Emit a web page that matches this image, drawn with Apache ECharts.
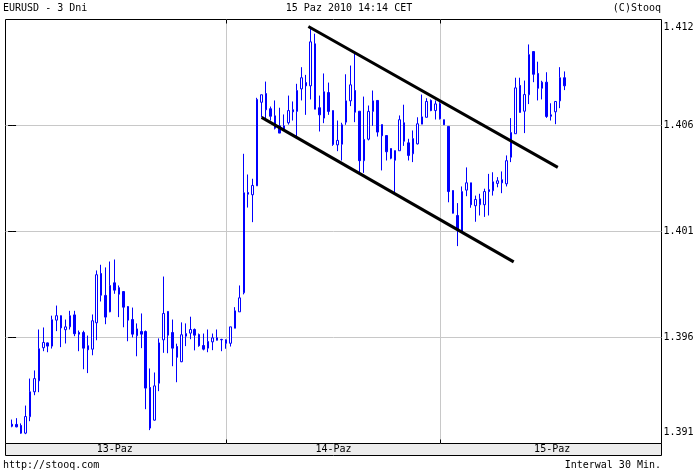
<!DOCTYPE html>
<html><head><meta charset="utf-8">
<script src="https://cdn.jsdelivr.net/npm/echarts@6/dist/echarts.min.js"></script>
<style>html,body{margin:0;padding:0;background:#fff}#c{width:700px;height:474px}</style>
</head><body><div id="c"></div>
<script>
// 30-minute candles, 13-15 Oct 2010 (index 0 = 13-Paz 00:00)
const opens = [1.39165,1.39164,1.39159,1.39121,1.39202,1.39325,1.39379,1.39542,1.39566,1.39550,
1.39678,1.39700,1.39631,1.39645,1.39704,1.39617,1.39617,1.39552,1.39535,1.39665,
1.39908,1.39800,1.39719,1.39862,1.39838,1.39819,1.39745,1.39681,1.39601,1.39622,
1.39622,1.39346,1.39185,1.39367,1.39581,1.39721,1.39617,1.39548,1.39473,1.39599,
1.39614,1.39632,1.39607,1.39553,1.39540,1.39571,1.39591,1.39583,1.39581,1.39564,
1.39638,1.39719,1.39813,1.40307,1.40296,1.40340,1.40752,1.40795,1.40720,1.40685,
1.40636,1.40613,1.40651,1.40715,1.40707,1.40818,1.40849,1.40833,1.41040,1.40725,
1.40674,1.40800,1.40711,1.40542,1.40545,1.40654,1.40759,1.40810,1.40708,1.40464,
1.40570,1.40707,1.40761,1.40642,1.40588,1.40524,1.40466,1.40513,1.40651,1.40552,
1.40498,1.40547,1.40644,1.40678,1.40761,1.40711,1.40744,1.40666,1.40633,1.40317,
1.40194,1.40115,1.40319,1.40355,1.40242,1.40247,1.40247,1.40321,1.40316,1.40352,
1.40370,1.40350,1.40481,1.40597,1.40835,1.40708,1.40789,1.41002,1.40894,1.40821,
1.40851,1.40690,1.40705,1.40759,1.40873];
const closes = [1.39155,1.39152,1.39121,1.39203,1.39325,1.39390,1.39537,1.39568,1.39550,1.39680,
1.39700,1.39640,1.39645,1.39700,1.39611,1.39609,1.39540,1.39532,1.39675,1.39902,
1.39801,1.39693,1.39849,1.39826,1.39806,1.39742,1.39678,1.39609,1.39635,1.39609,
1.39343,1.39146,1.39354,1.39566,1.39711,1.39604,1.39540,1.39495,1.39606,1.39612,
1.39632,1.39604,1.39552,1.39535,1.39573,1.39591,1.39579,1.39581,1.39564,1.39645,
1.39724,1.39788,1.40306,1.40299,1.40342,1.40766,1.40789,1.40715,1.40683,1.40624,
1.40600,1.40636,1.40711,1.40705,1.40810,1.40873,1.40833,1.41050,1.40718,1.40690,
1.40804,1.40707,1.40544,1.40564,1.40641,1.40759,1.40838,1.40703,1.40464,1.40569,
1.40707,1.40759,1.40605,1.40587,1.40508,1.40476,1.40514,1.40666,1.40560,1.40490,
1.40573,1.40646,1.40680,1.40756,1.40711,1.40744,1.40671,1.40641,1.40312,1.40205,
1.40123,1.40312,1.40355,1.40247,1.40273,1.40276,1.40312,1.40312,1.40360,1.40365,
1.40355,1.40464,1.40603,1.40823,1.40702,1.40790,1.40987,1.40890,1.40821,1.40851,
1.40682,1.40683,1.40756,1.40873,1.40833];
const lows = [1.39150,1.39150,1.39118,1.39116,1.39180,1.39308,1.39323,1.39525,1.39520,1.39538,
1.39624,1.39545,1.39563,1.39632,1.39599,1.39525,1.39436,1.39417,1.39505,1.39579,
1.39770,1.39658,1.39717,1.39808,1.39693,1.39643,1.39574,1.39593,1.39500,1.39540,
1.39239,1.39136,1.39183,1.39328,1.39517,1.39515,1.39451,1.39372,1.39471,1.39550,
1.39584,1.39529,1.39547,1.39529,1.39520,1.39530,1.39578,1.39525,1.39537,1.39548,
1.39638,1.39719,1.39805,1.40233,1.40161,1.40340,1.40678,1.40661,1.40662,1.40618,
1.40600,1.40613,1.40642,1.40662,1.40580,1.40761,1.40690,1.40766,1.40718,1.40608,
1.40649,1.40690,1.40537,1.40511,1.40465,1.40641,1.40733,1.40654,1.40407,1.40404,
1.40564,1.40636,1.40583,1.40416,1.40465,1.40471,1.40306,1.40513,1.40537,1.40465,
1.40457,1.40544,1.40644,1.40678,1.40708,1.40667,1.40667,1.40641,1.40259,1.40204,
1.40043,1.40115,1.40289,1.40232,1.40163,1.40194,1.40187,1.40194,1.40292,1.40333,
1.40304,1.40337,1.40457,1.40597,1.40702,1.40600,1.40743,1.40851,1.40761,1.40766,
1.40675,1.40662,1.40644,1.40723,1.40812];
const highs = [1.39188,1.39195,1.39169,1.39257,1.39390,1.39430,1.39632,1.39642,1.39568,1.39700,
1.39750,1.39701,1.39681,1.39724,1.39724,1.39627,1.39626,1.39602,1.39706,1.39923,
1.39951,1.39938,1.39967,1.39977,1.39849,1.39821,1.39747,1.39740,1.39662,1.39711,
1.39627,1.39440,1.39420,1.39588,1.39893,1.39722,1.39681,1.39562,1.39667,1.39662,
1.39695,1.39637,1.39612,1.39612,1.39632,1.39612,1.39632,1.39586,1.39583,1.39645,
1.39742,1.39849,1.40498,1.40396,1.40375,1.40774,1.40789,1.40854,1.40731,1.40761,
1.40725,1.40692,1.40785,1.40756,1.40843,1.40925,1.40887,1.41122,1.41090,1.40785,
1.40894,1.40849,1.40711,1.40662,1.40651,1.40890,1.40933,1.40991,1.40708,1.40780,
1.40736,1.40810,1.40761,1.40642,1.40588,1.40524,1.40514,1.40687,1.40740,1.40572,
1.40613,1.40678,1.40790,1.40772,1.40766,1.40761,1.40752,1.40666,1.40633,1.40317,
1.40255,1.40337,1.40431,1.40355,1.40292,1.40301,1.40326,1.40399,1.40407,1.40383,
1.40411,1.40490,1.40674,1.40873,1.40873,1.40859,1.41037,1.41002,1.40952,1.40858,
1.40900,1.40747,1.40756,1.40925,1.40904];

const dayLabels = ['13-Paz', '14-Paz', '15-Paz'];
const dayBoundaries = [48, 96];          // candle index of 00:00 on 14 and 15 Oct
const xMin = -1.48, xMax = 145.77;       // visible span in candle slots
const yAxisMin = 1.3907, yAxisMax = 1.4116;
const yGridValues = [1.395925, 1.40115, 1.406375];
const yLabelValues = [1.3907, 1.395925, 1.40115, 1.406375, 1.4116];
const trendUpper = [[66.8, 1.41122], [122.2, 1.40435]];
const trendLower = [[56.3, 1.40674], [112.3, 1.39969]];
const titleLeft = 'EURUSD - 3 Dni';
const titleCenter = '15 Paz 2010 14:14 CET';
const titleRight = '(C)Stooq';
const footLeft = 'http://stooq.com';
const footRight = 'Interwal 30 Min.';

const FONT = 'DejaVu Sans Mono';
const FS = 10;
const candleData = opens.map((o, i) => [i, o, closes[i], lows[i], highs[i]]);

const chart = echarts.init(document.getElementById('c'), null, {renderer: 'canvas'});
const tickStyle = {color: '#000', width: 1};
const option = {
  animation: false,
  backgroundColor: '#fff',
  grid: [
    {left: 5.5, top: 19.5, width: 656, height: 424, show: true, borderColor: '#000', borderWidth: 1, backgroundColor: '#fff', containLabel: false},
    {left: 5.5, top: 443.5, width: 656, height: 12, show: true, borderColor: '#000', borderWidth: 1, backgroundColor: '#ececec', containLabel: false}
  ],
  xAxis: [
    {gridIndex: 0, type: 'value', min: xMin, max: xMax, position: 'bottom',
     axisLine: {show: false}, axisLabel: {show: false},
     axisTick: {show: true, inside: true, length: 4, customValues: dayBoundaries, lineStyle: tickStyle},
     splitLine: {show: true, lineStyle: {color: '#c8c8c8', width: 1}}},
    {gridIndex: 0, type: 'value', min: xMin, max: xMax, position: 'top',
     axisLine: {show: false}, axisLabel: {show: false},
     axisTick: {show: true, inside: true, length: 4, customValues: dayBoundaries, lineStyle: tickStyle},
     splitLine: {show: false}},
    {gridIndex: 1, type: 'category', data: dayLabels, position: 'top',
     axisLine: {show: false}, axisTick: {show: false}, splitLine: {show: false},
     axisLabel: {inside: true, margin: 1, fontFamily: FONT, fontSize: FS, color: '#000'}}
  ],
  yAxis: [
    {gridIndex: 0, type: 'value', min: yAxisMin, max: yAxisMax, position: 'right',
     axisLine: {show: false},
     axisTick: {show: true, inside: true, length: 4, customValues: yGridValues, lineStyle: tickStyle},
     splitLine: {show: true, lineStyle: {color: '#c8c8c8', width: 1}},
     axisLabel: {show: true, customValues: yLabelValues, margin: 2, fontFamily: FONT, fontSize: FS, color: '#000',
       formatter: function (v) {
         const t = v.toFixed(3);
         if (Math.abs(v - yAxisMax) < 1e-7) return '{top|' + t + '}';
         if (Math.abs(v - yAxisMin) < 1e-7) return '{bot|' + t + '}';
         return t;
       },
       rich: {
         top: {fontFamily: FONT, fontSize: FS, color: '#000', padding: [16, 0, 0, 0]},
         bot: {fontFamily: FONT, fontSize: FS, color: '#000', padding: [0, 0, 22, 0]}
       }}},
    {gridIndex: 0, type: 'value', min: yAxisMin, max: yAxisMax, position: 'left',
     axisLine: {show: false}, axisLabel: {show: false}, splitLine: {show: false},
     axisTick: {show: true, inside: true, length: 4, customValues: yGridValues, lineStyle: tickStyle}},
    {gridIndex: 1, type: 'value', show: false, min: 0, max: 1}
  ],
  series: [
    {type: 'candlestick', xAxisIndex: 0, yAxisIndex: 0, data: candleData,
     encode: {x: 0, y: [1, 2, 3, 4]}, barWidth: 2,
     itemStyle: {color: '#ffffff', color0: '#0000ff', borderColor: '#0000ff', borderColor0: '#0000ff', borderColorDoji: '#0000ff', borderWidth: 1}},
    {type: 'line', xAxisIndex: 0, yAxisIndex: 0, data: trendUpper, symbol: 'none', z: 5,
     lineStyle: {color: '#000', width: 3, cap: 'square'}},
    {type: 'line', xAxisIndex: 0, yAxisIndex: 0, data: trendLower, symbol: 'none', z: 5,
     lineStyle: {color: '#000', width: 3, cap: 'square'}}
  ],
  graphic: [
    {type: 'text', left: 3, top: 3, style: {text: titleLeft, font: FS + 'px ' + FONT, fill: '#000'}},
    {type: 'text', x: 349, y: 3, style: {text: titleCenter, font: FS + 'px ' + FONT, fill: '#000', textAlign: 'center'}},
    {type: 'text', x: 661, y: 3, style: {text: titleRight, font: FS + 'px ' + FONT, fill: '#000', textAlign: 'right'}},
    {type: 'text', left: 3, top: 460, style: {text: footLeft, font: FS + 'px ' + FONT, fill: '#000'}},
    {type: 'text', x: 661, y: 460, style: {text: footRight, font: FS + 'px ' + FONT, fill: '#000', textAlign: 'right'}}
  ]
};
chart.setOption(option);
</script>
</body></html>
